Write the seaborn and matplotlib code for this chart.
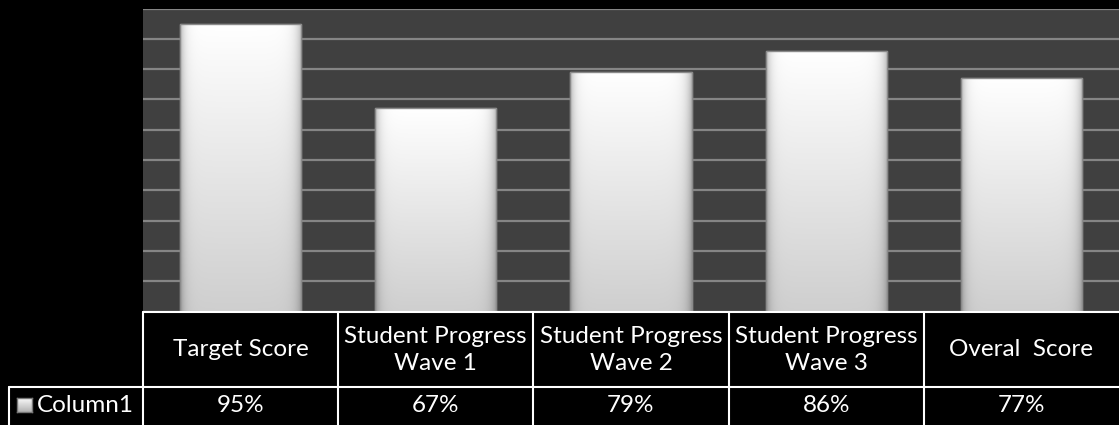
import numpy as np
import pandas as pd
import matplotlib
matplotlib.use("Agg")
import matplotlib.pyplot as plt
import seaborn as sns
from matplotlib.transforms import blended_transform_factory
from matplotlib.lines import Line2D
from matplotlib.patches import Rectangle

# ---- data ----
categories = ["Target Score", "Student Progress\nWave 1", "Student Progress\nWave 2",
              "Student Progress\nWave 3", "Overal  Score"]
values = [0.95, 0.67, 0.79, 0.86, 0.77]
value_labels = ["95%", "67%", "79%", "86%", "77%"]
series_name = "Column1"
y_ticks = [0.0, 0.1, 0.2, 0.3, 0.4, 0.5, 0.6, 0.7, 0.8, 0.9, 1.0]

sns.set_theme(style="dark")
plt.rcParams['font.family'] = ['Lato', 'DejaVu Sans']

W, H = 1119, 425
fig = plt.figure(figsize=(W / 100, H / 100), dpi=100, facecolor="black")
ax = fig.add_axes([143 / W, (H - 311.5) / H, (W - 143) / W, 303 / H])
ax.set_facecolor("#404040")

df = pd.DataFrame({"cat": categories, "val": values})
sns.barplot(data=df, x="cat", y="val", order=categories, ax=ax, width=0.62,
            color="white", edgecolor="#8a8a8a", linewidth=1.0, saturation=1, zorder=3)

# gradient fill for bars
u = np.linspace(0, 1, 120)
hprof = 1 - 0.28 * np.exp(-u / 0.035) - 0.28 * np.exp(-(1 - u) / 0.045)
t = np.linspace(0, 1, 200)
vprof = 1 - 0.19 * t
grad = np.clip(vprof[:, None] * hprof[None, :], 0, 1)
img = np.dstack([grad, grad, grad])
for p in list(ax.patches):
    x0, w, h = p.get_x(), p.get_width(), p.get_height()
    im = ax.imshow(img, extent=(x0, x0 + w, 0, h), aspect="auto", zorder=4,
                   interpolation="bilinear")
    im.set_clip_path(p)
    r = Rectangle((x0, 0), w, h, fill=False, edgecolor="#8a8a8a", lw=1.0, zorder=5)
    ax.add_patch(r)

ax.set_xlim(-0.5, len(categories) - 0.5)
ax.set_ylim(0, 1)
ax.set_yticks(y_ticks)
ax.set_yticklabels([])
ax.set_xticks([])
ax.set_xlabel("")
ax.set_ylabel("")
ax.tick_params(length=0)
ax.yaxis.grid(True, color="#858585", lw=1.6, zorder=0)
ax.xaxis.grid(False)
ax.set_axisbelow(True)
for s in ax.spines.values():
    s.set_visible(False)

# ---- data table ----
tr = blended_transform_factory(ax.transData, fig.transFigure)
def fy(py):
    return (H - py) / H

lc = "white"
lw = 1.5
n = len(categories)
fig.add_artist(Line2D([143 / W, 1], [fy(312), fy(312)], color=lc, lw=lw))
fig.add_artist(Line2D([9 / W, 1], [fy(386.5), fy(386.5)], color=lc, lw=lw))
fig.add_artist(Line2D([9 / W, 9 / W], [fy(386.5), 0], color=lc, lw=lw))
for i in range(n):
    xb = i - 0.5
    fig.add_artist(Line2D([xb, xb], [fy(312), 0], color=lc, lw=lw, transform=tr))

fs = 17.5
for i, (c, v) in enumerate(zip(categories, value_labels)):
    fig.text(i, fy(350), c, transform=tr, ha="center", va="center", color="white",
             fontsize=fs, linespacing=1.35)
    fig.text(i, fy(406), v, transform=tr, ha="center", va="center", color="white",
             fontsize=fs)

# legend key + series name
key_ax = fig.add_axes([17 / W, fy(412), 15 / W, 14 / H])
kg = np.linspace(1.0, 0.7, 50)
key_ax.imshow(np.dstack([kg[:, None] * np.ones((1, 50))] * 3), aspect="auto")
key_ax.set_xticks([]); key_ax.set_yticks([])
for s in key_ax.spines.values():
    s.set_edgecolor("#777777"); s.set_linewidth(1)
fig.text(37 / W, fy(406), series_name, ha="left", va="center", color="white", fontsize=fs)

fig.savefig("out.png", dpi=100, facecolor="black")
